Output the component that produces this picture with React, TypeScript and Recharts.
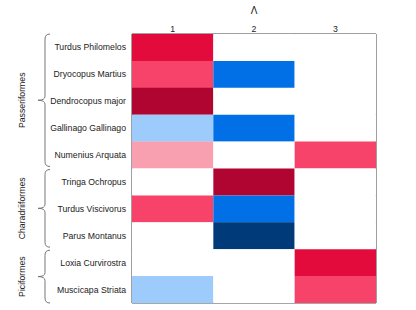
import { BarChart, Bar, XAxis, YAxis, Cell } from "recharts"

const species = [
  "Turdus Philomelos",
  "Dryocopus Martius",
  "Dendrocopus major",
  "Gallinago Gallinago",
  "Numenius Arquata",
  "Tringa Ochropus",
  "Turdus Viscivorus",
  "Parus Montanus",
  "Loxia Curvirostra",
  "Muscicapa Striata",
]

const groupNames = ["Passeriformes", "Charadriiformes", "Piciformes"]
const groupSizes = [5, 3, 2]

const columns = ["1", "2", "3"]
const col1 = [3, 2, 4, -1, 1, 0, 2, 0, 0, -1]
const col2 = [0, -2, 0, -2, 0, 4, -2, -3, 0, 0]
const col3 = [0, 0, 0, 0, 2, 0, 0, 0, 3, 2]

const palette: Record<number, string> = {
  4: "#b00431",
  3: "#e30b3c",
  2: "#f7436a",
  1: "#f9a0b0",
  0: "#ffffff",
  "-1": "#9dcbfc",
  "-2": "#0170e6",
  "-3": "#003a78",
}

const data = species.map((name, i) => ({ name, c1: col1[i], c2: col2[i], c3: col3[i] }))
const colKeys = ["c1", "c2", "c3"]

const W = 416
const H = 310
const plotLeft = 132
const plotTop = 34
const plotRight = 376
const plotBottom = 303
const font = "'Liberation Sans', Arial, sans-serif"
const fs = 8.7

function Brace({ y0, y1, label }: any) {
  const ym = (y0 + y1) / 2
  const xe = 50, xl = 45, xt = 38
  const d = `M ${xe} ${y0} Q ${xl} ${y0} ${xl} ${y0 + 5} L ${xl} ${ym - 4} Q ${xl} ${ym} ${xt} ${ym} Q ${xl} ${ym} ${xl} ${ym + 4} L ${xl} ${y1 - 5} Q ${xl} ${y1} ${xe} ${y1}`
  return (
    <g>
      <path d={d} fill="none" stroke="#777" strokeWidth={1} />
      <text
        x={23}
        y={ym}
        transform={`rotate(-90 23 ${ym})`}
        textAnchor="middle"
        dominantBaseline="middle"
        fontSize={fs}
        fontFamily={font}
        fill="#222"
      >
        {label}
      </text>
    </g>
  )
}

function SpeciesTick({ x, y, payload }: any) {
  return (
    <text x={x} y={y} textAnchor="end" dominantBaseline="central" fontSize={fs} fontFamily={font} fill="#222">
      {payload.value}
    </text>
  )
}

export default function App() {
  const rowH = (plotBottom - plotTop) / species.length
  let start = 0
  const braces = groupNames.map((g, i) => {
    const y0 = plotTop + start * rowH + (i === 0 ? 0 : 1)
    start += groupSizes[i]
    const y1 = plotTop + start * rowH - (i === groupNames.length - 1 ? 0 : 2)
    return <Brace key={g} y0={y0} y1={y1} label={g} />
  })

  return (
    <div style={{ position: "absolute", left: 0, top: 0, width: W, height: H, background: "#fff" }}>
      <BarChart
        width={W}
        height={H}
        data={data}
        layout="vertical"
        barCategoryGap={0}
        margin={{ top: 14, right: W - plotRight, bottom: H - plotBottom, left: 2 }}
      >
        <XAxis
          type="number"
          orientation="top"
          domain={[0, 3]}
          ticks={[0.5, 1.5, 2.5]}
          tickFormatter={(v: number) => columns[Math.floor(v)]}
          axisLine={false}
          tickLine={false}
          tickSize={0}
          tickMargin={2}
          height={20}
          tick={{ fontSize: fs, fill: "#222", fontFamily: font }}
        />
        <YAxis
          type="category"
          dataKey="name"
          width={plotLeft - 2}
          axisLine={false}
          tickLine={false}
          tickSize={4}
          tickMargin={2}
          interval={0}
          tick={<SpeciesTick />}
        />
        {colKeys.map((k) => (
          <Bar key={k} dataKey={() => 1} stackId="a" isAnimationActive={false}>
            {data.map((row: any, i) => (
              <Cell key={i} fill={palette[row[k]]} />
            ))}
          </Bar>
        ))}
        <text x={(plotLeft + plotRight) / 2} y={11} textAnchor="middle" dominantBaseline="middle" fontSize={10} fontFamily={font} fill="#222">
          Λ
        </text>
        <line x1={plotLeft} y1={plotTop} x2={plotRight} y2={plotTop} stroke="#404040" strokeWidth={1} />
        <line x1={plotLeft} y1={plotTop} x2={plotLeft} y2={plotBottom} stroke="#404040" strokeWidth={1} />
        <line x1={plotRight} y1={plotTop} x2={plotRight} y2={plotBottom} stroke="#404040" strokeWidth={1} />
        <line x1={plotLeft} y1={plotBottom} x2={plotRight} y2={plotBottom} stroke="#8a8a8a" strokeWidth={1.5} />
        {braces}
      </BarChart>
    </div>
  )
}
